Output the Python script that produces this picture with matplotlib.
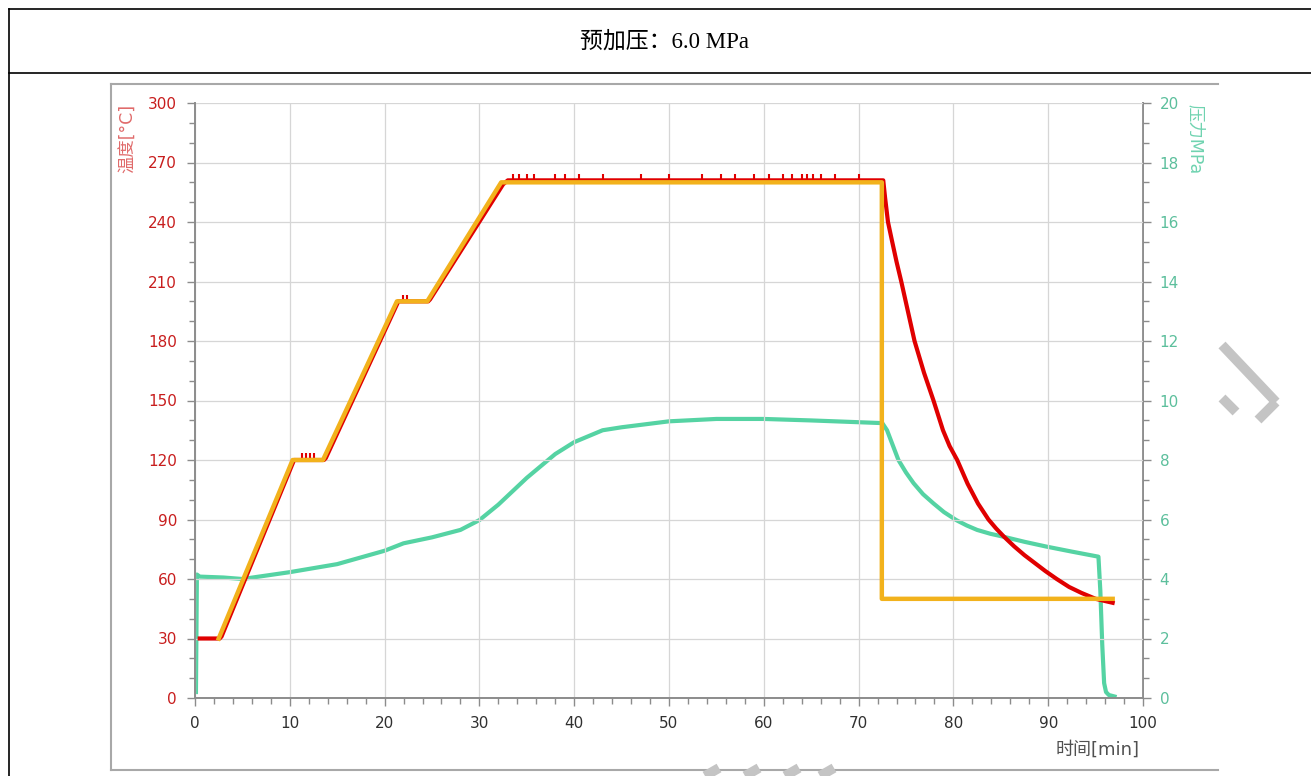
import numpy as np
import matplotlib
matplotlib.use("Agg")
import matplotlib.pyplot as plt
from matplotlib.lines import Line2D
from matplotlib.ticker import MultipleLocator

plt.rcParams['font.family'] = ['DejaVu Sans', 'Noto Sans CJK SC']

# setpoint temperature program (orange)
set_t = [2.5, 10.3, 13.5, 21.3, 24.5, 32.3, 72.45, 72.45, 96.8]
set_T = [30, 120, 120, 200, 200, 260, 260, 50, 50]

# measured temperature (red)
temp_t = [0.5, 2.6, 2.8, 10.45, 13.6, 13.8, 21.45, 24.6, 24.8, 32.5, 33.0, 72.6,
          72.8, 73.1, 73.5, 74.0, 74.5, 75.2, 75.9, 76.9, 77.9, 78.9, 79.6,
          80.4, 81.5, 82.6, 83.7, 84.5, 85.3, 86.4, 87.5, 88.6, 89.7, 90.9,
          92.2, 93.5, 95.0, 96.8]
temp_T = [30, 30, 31, 120, 120, 121, 200, 200, 201, 259, 261, 261,
          252, 240, 231, 220, 210, 195, 180, 164, 150, 135, 127,
          120, 108, 98, 90, 85.5, 81.5, 76.5, 72, 68, 64, 60,
          56, 53, 50, 48]

# small spikes on the temperature plateaus
spike_t = [11.3, 11.7, 12.1, 12.5, 21.9, 22.4, 33.5, 34.2, 35.0, 35.8, 38.0, 39.0,
           40.5, 43.0, 47.0, 50.0, 53.5, 55.5, 57.0, 59.0, 60.5, 62.0, 63.0,
           64.0, 64.6, 65.2, 66.0, 67.5, 70.0]
spike_T = [121.5, 121.5, 121.5, 121.5, 201, 201, 262, 262, 262, 262, 262, 262,
           262, 262, 262, 262, 262, 262, 262, 262, 262, 262, 262,
           262, 262, 262, 262, 262, 262]

# pressure (teal, right axis)
pres_t = [0.1, 0.2, 0.5, 3.0, 5.0, 10.0, 15.0, 20.0, 22.0, 25.0, 28.0, 30.0,
          32.0, 35.0, 38.0, 40.0, 43.0, 45.0, 50.0, 55.0, 60.0, 65.0, 70.0,
          72.5, 73.0, 73.6, 74.2, 75.0, 75.8, 76.8, 77.9, 79.0, 80.3, 81.4,
          82.5, 83.9, 85.3, 87.5, 89.8, 92.5, 95.3,
          95.5, 95.7, 95.9, 96.1, 96.4, 97.0]
pres_P = [0.2, 4.15, 4.08, 4.05, 4.0, 4.23, 4.5, 4.95, 5.2, 5.4, 5.65, 5.98,
          6.5, 7.4, 8.2, 8.6, 9.0, 9.1, 9.3, 9.38, 9.38, 9.33, 9.27,
          9.24, 9.0, 8.5, 8.0, 7.58, 7.22, 6.85, 6.54, 6.25, 5.98, 5.8,
          5.65, 5.52, 5.42, 5.25, 5.09, 4.92, 4.75,
          3.6, 1.8, 0.5, 0.2, 0.1, 0.05]

RED = '#e00000'
ORANGE = '#f2b21c'
TEAL = '#55d3a3'

fig = plt.figure(figsize=(13.11, 7.76), dpi=100)

# table frame around the chart
frame = dict(color='black', lw=1.2, transform=fig.transFigure)
fig.add_artist(Line2D([9/1311, 1], [1 - 9/776, 1 - 9/776], **frame))
fig.add_artist(Line2D([9/1311, 1], [1 - 73/776, 1 - 73/776], **frame))
fig.add_artist(Line2D([9/1311, 9/1311], [0, 1 - 9/776], **frame))
gray = dict(color='#a8a8a8', lw=1.5, transform=fig.transFigure)
fig.add_artist(Line2D([111/1311, 1218/1311], [1 - 84/776, 1 - 84/776], **gray))
fig.add_artist(Line2D([111/1311, 1218/1311], [1 - 770/776, 1 - 770/776], **gray))
fig.add_artist(Line2D([111/1311, 111/1311], [1 - 84/776, 1 - 770/776], **gray))

fig.text(665/1311, 1 - 42/776, '预加压：6.0 MPa', ha='center', va='center',
         fontsize=16.5, family=['Liberation Serif', 'Noto Sans CJK SC'])

# watermark strokes
wm = dict(color='#c4c4c4', lw=7, solid_capstyle='butt', transform=fig.transFigure)
fig.add_artist(Line2D([1222/1311, 1276/1311], [1 - 345/776, 1 - 402/776], **wm))
fig.add_artist(Line2D([1276/1311, 1258/1311], [1 - 402/776, 1 - 420/776], **wm))
fig.add_artist(Line2D([1222/1311, 1236/1311], [1 - 398/776, 1 - 412/776], **wm))
for x0 in [705, 745, 785, 820]:
    fig.add_artist(Line2D([x0/1311, (x0 + 14)/1311], [0, 8/776], **wm))

ax = fig.add_axes([195/1311, 1 - 698/776, (1143 - 195)/1311, (698 - 103)/776])
ax2 = ax.twinx()

ax.plot(temp_t, temp_T, color=RED, lw=3.0, zorder=3)
ax.plot(spike_t, spike_T, ls='none', marker='|', ms=6, mew=1.5, color=RED, zorder=3)
ax.plot(set_t, set_T, color=ORANGE, lw=3.2, zorder=4)
ax2.plot(pres_t, pres_P, color=TEAL, lw=3.0, zorder=2)

ax.set_zorder(ax2.get_zorder() + 1)
ax.patch.set_visible(False)

ax.set_xlim(0, 100)
ax.set_ylim(0, 300)
ax2.set_ylim(0, 20)
ax.xaxis.set_major_locator(MultipleLocator(10))
ax.xaxis.set_minor_locator(MultipleLocator(2))
ax.yaxis.set_major_locator(MultipleLocator(30))
ax.yaxis.set_minor_locator(MultipleLocator(10))
ax2.yaxis.set_major_locator(MultipleLocator(2))
ax2.yaxis.set_minor_locator(MultipleLocator(2/3))

ax.grid(True, which='major', color='#d6d6d6', lw=0.9)
ax2.grid(False)
ax.set_axisbelow(True)

for a in (ax, ax2):
    for s in a.spines.values():
        s.set_visible(False)
ax.spines['left'].set_visible(True)
ax.spines['bottom'].set_visible(True)
ax2.spines['right'].set_visible(True)
for s in (ax.spines['left'], ax.spines['bottom'], ax2.spines['right']):
    s.set_color('#8c8c8c')
    s.set_linewidth(1.4)

ax.tick_params(axis='y', which='major', length=6, width=1, color='#8c8c8c',
               labelsize=11, labelcolor='#c81e1e', pad=7)
ax.tick_params(axis='y', which='minor', length=4, width=1, color='#8c8c8c')
ax.tick_params(axis='x', which='major', length=6, width=1, color='#8c8c8c',
               labelsize=11, labelcolor='#303030', pad=7)
ax.tick_params(axis='x', which='minor', length=4, width=1, color='#8c8c8c')
ax2.tick_params(axis='y', which='major', length=6, width=1, color='#8c8c8c',
                labelsize=11, labelcolor='#5cbf9c', pad=6)
ax2.tick_params(axis='y', which='minor', length=4, width=1, color='#8c8c8c')

fig.text(128/1311, 1 - 104/776, '温度[°C]', rotation=90, ha='center', va='top',
         fontsize=12.5, color='#e06a6a')
fig.text(1195/1311, 1 - 104/776, '压力MPa', rotation=-90, ha='center', va='top',
         fontsize=12.5, color='#6fd3b0')
fig.text(1140/1311, 1 - 750/776, '时间[min]', ha='right', va='center',
         fontsize=13, color='#505050')

fig.savefig('out.png', dpi=100)
